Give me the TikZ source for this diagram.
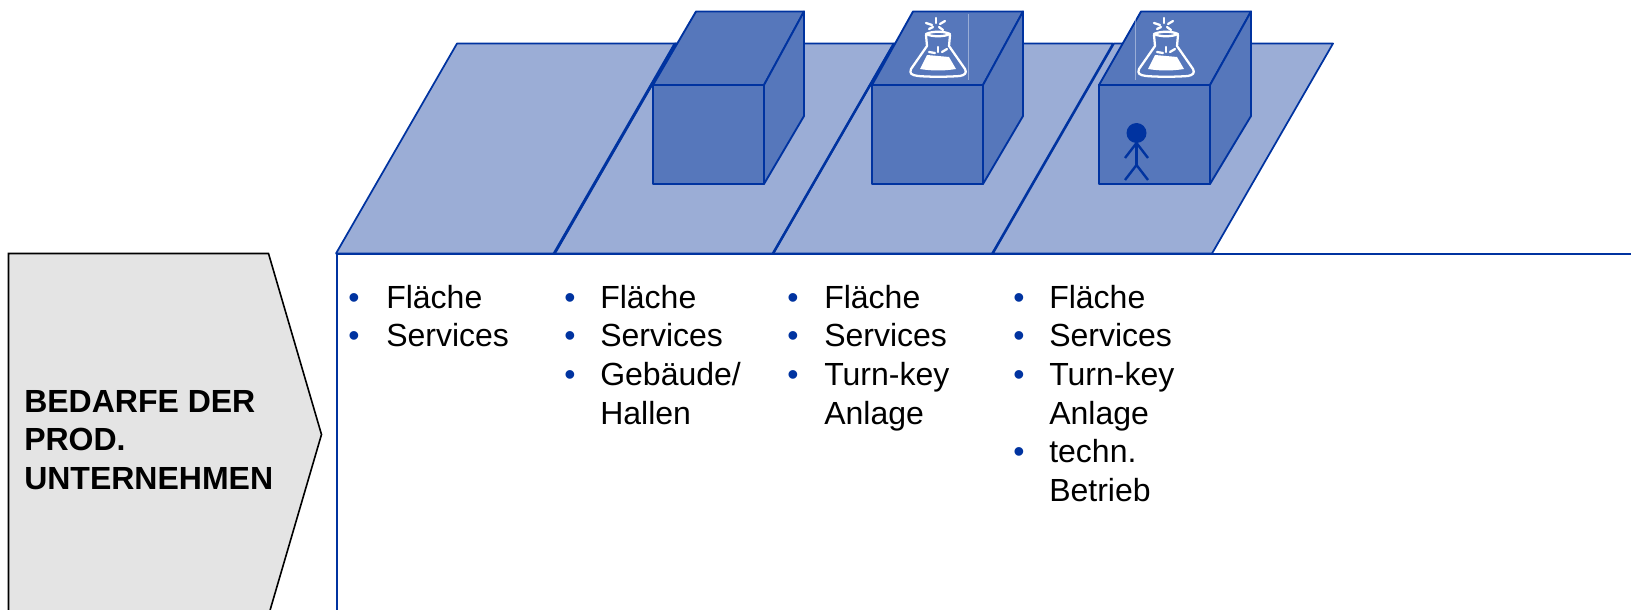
\documentclass[tikz,border=0pt]{standalone}
\usepackage{fontspec}
\setmainfont{Liberation Sans}
\usetikzlibrary{positioning}
\definecolor{planblue}{RGB}{155,173,214}
\definecolor{boxblue}{RGB}{86,119,187}
\definecolor{lineblue}{RGB}{0,51,160}
\definecolor{arrowgray}{RGB}{228,228,228}
\begin{document}
\begin{tikzpicture}[
    x=0.75pt, y=-0.75pt,
    plot/.style={draw=lineblue, fill=planblue, line width=1.3pt, line join=round},
    hall/.style={draw=lineblue, fill=boxblue, line width=1.4pt, line join=round},
    flaskline/.style={draw=white, line width=1.7pt, line cap=round, line join=round},
    itemtext/.style={anchor=north west, inner sep=0pt, align=left, font=\fontsize{24}{28.9}\selectfont},
    itemdot/.style={itemtext, text=lineblue}
]
\useasboundingbox (0,0) rectangle (1631,610);

% Plots of land
\foreach \x/\u in {993/1114, 773/894, 554/675, 336/457} {
    \draw[plot] (\x,253.5) -- (\u,43.5) -- ++(219,0) -- (\x+219,253.5) -- cycle;
}
\draw[draw=lineblue, line width=1.9pt] (554,253.5) -- (675,43.5);
\draw[draw=lineblue, line width=1.9pt] (773,253.5) -- (894,43.5);

% Frame of the table
\draw[draw=lineblue, line width=1.5pt] (1631,253.8) -- (336.5,253.8) -- (336.5,612);

% Halls on the plots
\foreach \f/\b/\e in {653/696/804, 872/913/1023, 1099/1141/1251} {
    \draw[hall] (\f,85) -- (\b,11.5) -- (\e,11.5) -- (\f+111,85) -- cycle;
    \draw[hall] (\f+111,85) -- (\e,11.5) -- (\e,116) -- (\f+111,184) -- cycle;
    \draw[hall] (\f,85) rectangle (\f+111,184);
}

% Thin lines on the roofs
\draw[draw=white, opacity=0.4, line width=0.6pt] (968,14) -- (968,80);
\draw[draw=white, opacity=0.4, line width=0.6pt] (1135,14) -- (1135,80);

% Flasks on the roofs
\foreach \c in {938,1166} {
    \draw[flaskline] (\c-12,34) .. controls (\c-6,31) and (\c+6,31) .. (\c+12,34)
        .. controls (\c+6,37) and (\c-6,37) .. cycle;
    \draw[flaskline] (\c-12,35) -- (\c-11,46) -- (\c-27,69)
        .. controls (\c-29,74) and (\c-26,75) .. (\c-20,76)
        .. controls (\c-8,77) and (\c+8,77) .. (\c+22,76)
        .. controls (\c+27,75) and (\c+29,73) .. (\c+27,69)
        -- (\c+11,46) -- (\c+12,35);
    \fill[white] (\c-18,69) -- (\c-11,55) -- (\c+11,57) -- (\c+18,69)
        .. controls (\c+6,71) and (\c-6,71) .. cycle;
    \draw[flaskline] (\c-9,52) -- (\c-3,53);
    \draw[flaskline] (\c,47) -- (\c,52);
    \draw[flaskline] (\c+4,52) -- (\c+9,49);
    \draw[flaskline] (\c-2,18) -- (\c-2,23);
    \draw[flaskline] (\c-12,23) -- (\c-6,25);
    \draw[flaskline] (\c+7,21) -- (\c+2,24);
    \draw[flaskline] (\c-9,29) -- (\c-5,27);
    \draw[flaskline] (\c+1,27) -- (\c+5,30);
}

% Person in the third hall
\fill[lineblue] (1136.5,133) circle (10);
\draw[draw=lineblue, line width=1.8pt] (1136.5,143) -- (1136.5,165);
\draw[draw=lineblue, line width=1.8pt] (1125,158) -- (1136.5,143) -- (1148,158);
\draw[draw=lineblue, line width=1.8pt] (1125,180) -- (1136.5,165) -- (1148,180);

% Arrow on the left
\draw[draw=black, fill=arrowgray, line width=1.2pt] (8.5,615.5) -- (8.5,253.5) -- (268.5,253.5)
    -- (321.5,434.5) -- (268.5,615.5) -- cycle;
\node[itemtext, font=\fontsize{24}{28.9}\selectfont\bfseries] (demand) at (24,390) {BEDARFE DER\\PROD.\\UNTERNEHMEN};

% Lists below the plots
\node[itemdot] (dotsa) at (348,293) {•\\•};
\node[itemtext] (lista) at (386,285) {Fläche\\Services};

\node[itemdot] (dotsb) at (564,293) {•\\•\\•};
\node[itemtext] (listb) at (600,285) {Fläche\\Services\\Gebäude/\\Hallen};

\node[itemdot] (dotsc) at (787,293) {•\\•\\•};
\node[itemtext] (listc) at (824,285) {Fläche\\Services\\Turn-key\\Anlage};

\node[itemdot] (dotsd) at (1013,293) {•\\•\\•\\\strut\\•};
\node[itemtext] (listd) at (1049,285) {Fläche\\Services\\Turn-key\\Anlage\\techn.\\Betrieb};

\end{tikzpicture}
\end{document}
